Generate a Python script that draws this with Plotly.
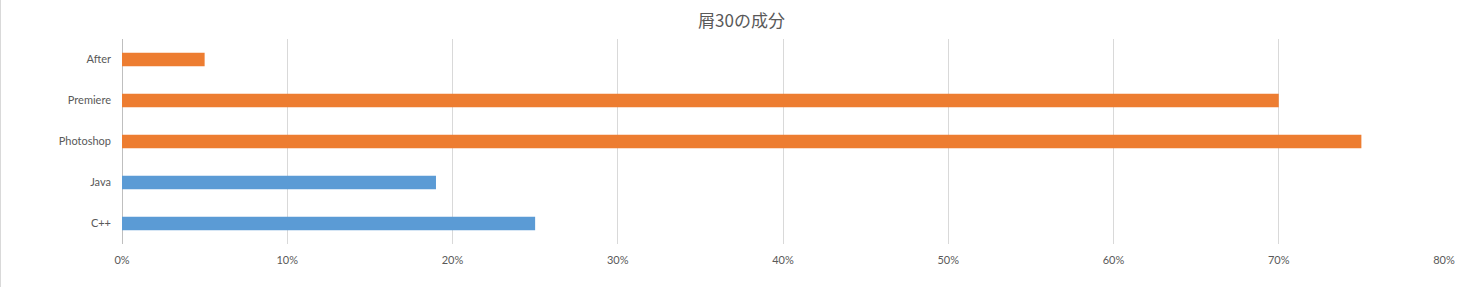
import plotly.graph_objects as go

title_text = "屑30の成分"
categories_order = ["C++", "Java", "Photoshop", "Premiere", "After"]

blue_categories = ["C++", "Java"]
blue_values = [0.25, 0.19]

orange_categories = ["Photoshop", "Premiere", "After"]
orange_values = [0.75, 0.70, 0.05]

x_tick_values = [0, 0.1, 0.2, 0.3, 0.4, 0.5, 0.6, 0.7, 0.8]

W, H = 1477, 287
ML, MR, MT, MB = 122, 33, 39, 43

fig = go.Figure()
fig.add_trace(go.Bar(y=blue_categories, x=blue_values, orientation="h",
                     marker=dict(color="#5B9BD5", line=dict(width=0)), showlegend=False))
fig.add_trace(go.Bar(y=orange_categories, x=orange_values, orientation="h",
                     marker=dict(color="#ED7D31", line=dict(width=0)), showlegend=False))

fig.update_layout(
    width=W, height=H,
    margin=dict(l=ML, r=MR, t=MT, b=MB, pad=0),
    paper_bgcolor="white", plot_bgcolor="white",
    barmode="overlay", bargap=0.67,
    title=dict(text=title_text, x=0.502, xref="container", xanchor="center",
               y=1 - 21 / H, yanchor="middle",
               font=dict(family="Noto Sans CJK JP", size=17, color="#595959")),
    font=dict(family="Lato, Open Sans, sans-serif", size=11, color="#595959"),
    xaxis=dict(range=[0, 0.8], tickvals=x_tick_values, tickformat=".0%",
               showgrid=True, gridcolor="#D9D9D9", gridwidth=1,
               zeroline=True, zerolinecolor="#BFBFBF", zerolinewidth=1,
               showline=False, ticks="", ticklabelstandoff=8,
               tickfont=dict(size=11, color="#595959"), fixedrange=True),
    yaxis=dict(categoryorder="array", categoryarray=categories_order,
               showgrid=False, zeroline=False, showline=False, ticks="",
               ticklabelstandoff=10,
               tickfont=dict(size=11, color="#595959"), fixedrange=True),
    shapes=[dict(type="line", xref="paper", yref="paper",
                 x0=-(ML - 0.5) / (W - ML - MR), x1=-(ML - 0.5) / (W - ML - MR),
                 y0=-MB / (H - MT - MB), y1=1 + MT / (H - MT - MB),
                 line=dict(color="#D9D9D9", width=1))],
)

fig.write_html("out.html", config={"displayModeBar": False})
